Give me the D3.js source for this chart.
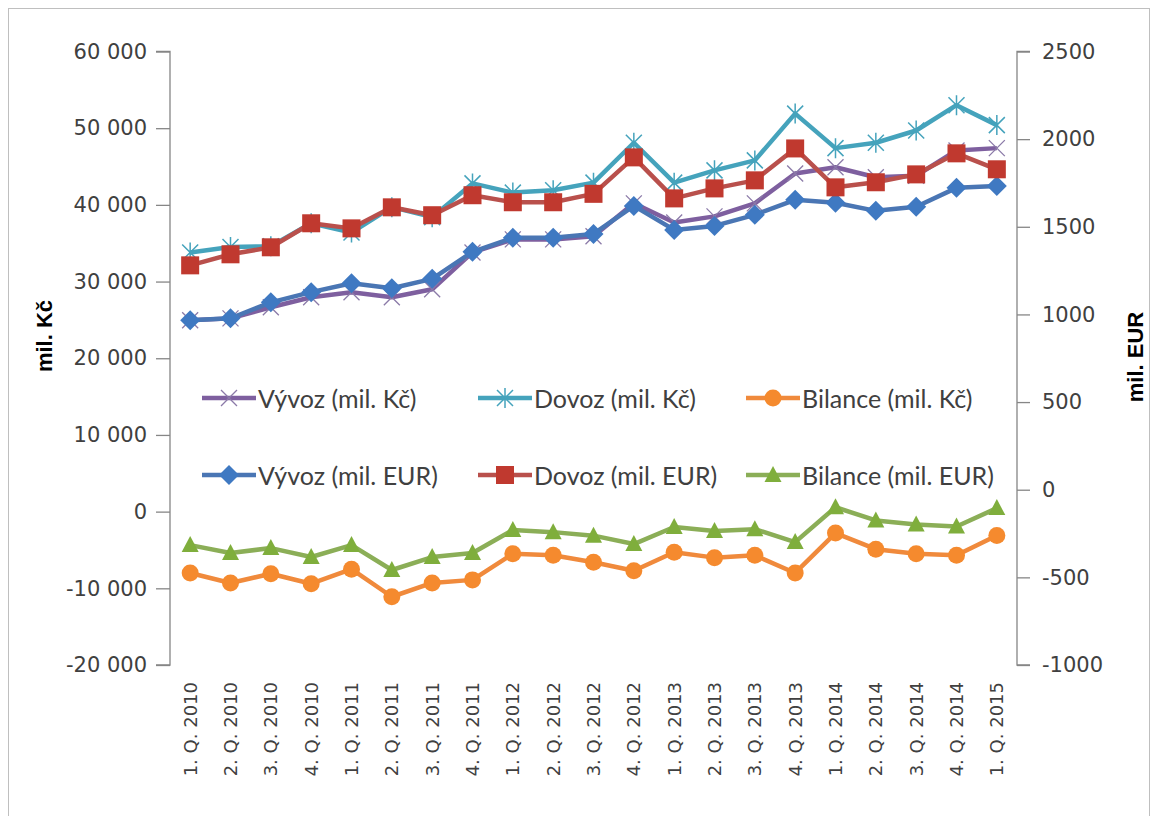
<!DOCTYPE html>
<html><head><meta charset="utf-8">
<script src="https://cdn.jsdelivr.net/npm/d3@7"></script>
<style>body{margin:0;background:#fff;} svg{display:block;}</style>
</head><body>
<svg id="c" width="1153" height="816"></svg>
<script>
const categories = ["1. Q. 2010","2. Q. 2010","3. Q. 2010","4. Q. 2010","1. Q. 2011","2. Q. 2011","3. Q. 2011","4. Q. 2011","1. Q. 2012","2. Q. 2012","3. Q. 2012","4. Q. 2012","1. Q. 2013","2. Q. 2013","3. Q. 2013","4. Q. 2013","1. Q. 2014","2. Q. 2014","3. Q. 2014","4. Q. 2014","1. Q. 2015"];
const vyvozKc   = [24950,25200,26650,27950,28600,27950,29000,33800,35500,35500,35900,40200,37700,38500,40200,44100,44900,43600,43800,47100,47400];
const dovozKc   = [33800,34500,34600,37600,36400,39700,38400,42800,41600,41900,42900,48100,42900,44500,45800,51900,47400,48100,49700,53000,50400];
const bilanceKc = [-8000,-9300,-8100,-9400,-7500,-11100,-9300,-8900,-5500,-5700,-6600,-7700,-5300,-6000,-5700,-8000,-2800,-4900,-5500,-5700,-3100];
const vyvozEur   = [967,978,1069,1127,1178,1149,1203,1357,1437,1437,1459,1619,1482,1505,1568,1654,1637,1591,1614,1722,1733];
const dovozEur   = [1280,1343,1383,1520,1491,1611,1566,1680,1640,1640,1688,1896,1662,1719,1765,1947,1725,1754,1799,1919,1828];
const bilanceEur = [-316,-361,-333,-384,-316,-458,-384,-361,-230,-242,-262,-310,-213,-236,-225,-299,-100,-175,-198,-210,-105];
const leftTicks  = [-20000,-10000,0,10000,20000,30000,40000,50000,60000];
const rightTicks = [-1000,-500,0,500,1000,1500,2000,2500];

const svg = d3.select("#c");
const L = 170, R = 1017, T = 51.5, B = 665;
const x = d3.scaleBand().domain(categories).range([L, R]);
const yL = d3.scaleLinear().domain([-20000, 60000]).range([B, T]);
const yR = d3.scaleLinear().domain([-1000, 2500]).range([B, T]);
const cx = d => x(d) + x.bandwidth()/2;

svg.append("rect").attr("x",8.5).attr("y",8.5).attr("width",1141).attr("height",830)
  .attr("fill","#fff").attr("stroke","#bfbfbf").attr("stroke-width",1);

const fmtL = v => (v < 0 ? "-" : "") + (Math.abs(v) >= 1000 ? d3.format(",")(Math.abs(v)).replace(/,/g," ") : String(Math.abs(v)));
const fmtR = v => (v < 0 ? "-" : "") + String(Math.abs(v));

// left axis
const gl = svg.append("g").attr("transform",`translate(${L},0)`)
  .call(d3.axisLeft(yL).tickValues(leftTicks).tickSize(14).tickPadding(9).tickFormat(fmtL));
gl.attr("font-family", null).attr("font-size", null);
gl.selectAll("path,line").attr("stroke","#868686").attr("stroke-width",1.3);
gl.select(".domain").attr("d", `M-14,${T}H0V${B}H-14`);
gl.selectAll("text").style("font-family","'DejaVu Sans'").style("font-size","21px").attr("fill","#404040");

// right axis
const gr = svg.append("g").attr("transform",`translate(${R},0)`)
  .call(d3.axisRight(yR).tickValues(rightTicks).tickSize(13).tickPadding(12).tickFormat(fmtR));
gr.attr("font-family", null).attr("font-size", null);
gr.selectAll("path,line").attr("stroke","#868686").attr("stroke-width",1.3);
gr.select(".domain").attr("d", `M13,${T}H0V${B}H13`);
gr.selectAll("text").style("font-family","'DejaVu Sans'").style("font-size","21px").attr("fill","#404040");

// x labels
svg.append("g").selectAll("text").data(categories).join("text")
  .attr("transform", d => `translate(${cx(d)},682) rotate(-90)`)
  .attr("text-anchor","end").attr("dominant-baseline","central")
  .style("font-family","'DejaVu Sans'").style("font-size","18px").attr("fill","#404040")
  .text(d => d);

// axis titles
svg.append("text").attr("transform","translate(44,336) rotate(-90)")
  .attr("text-anchor","middle").attr("dominant-baseline","central")
  .style("font-family","'Liberation Sans'").attr("font-weight","bold").style("font-size","22px").attr("fill","#000")
  .text("mil. Kč");
svg.append("text").attr("transform","translate(1135,357) rotate(-90)")
  .attr("text-anchor","middle").attr("dominant-baseline","central")
  .style("font-family","'Liberation Sans'").attr("font-weight","bold").style("font-size","22px").attr("fill","#000")
  .text("mil. EUR");

// markers
function drawMarker(g, type, color) {
  if (type === "x") {
    g.append("path").attr("d","M-8,-8L8,8M-8,8L8,-8").attr("stroke",color).attr("stroke-width",1.3).attr("fill","none");
  } else if (type === "star") {
    g.append("path").attr("d","M-8,-8L8,8M-8,8L8,-8M0,-10V10").attr("stroke",color).attr("stroke-width",1.5).attr("fill","none");
  } else if (type === "circle") {
    g.append("circle").attr("r",8.5).attr("fill",color);
  } else if (type === "diamond") {
    g.append("path").attr("d","M0,-10L10,0L0,10L-10,0Z").attr("fill",color);
  } else if (type === "square") {
    g.append("rect").attr("x",-9).attr("y",-9).attr("width",18).attr("height",18).attr("fill",color);
  } else if (type === "triangle") {
    g.append("path").attr("d","M0,-9L8.5,7L-8.5,7Z").attr("fill",color);
  }
}

const series = [
  {name:"Vývoz (mil. Kč)",  data:vyvozKc,   y:yL, color:"#7E5F9F", mcolor:"#8b7aa8", marker:"x"},
  {name:"Dovoz (mil. Kč)",  data:dovozKc,   y:yL, color:"#45A3BC", mcolor:"#45A3BC", marker:"star"},
  {name:"Bilance (mil. Kč)",data:bilanceKc, y:yL, color:"#F08A3C", mcolor:"#F58A2E", marker:"circle"},
  {name:"Vývoz (mil. EUR)", data:vyvozEur,  y:yR, color:"#4A76B4", mcolor:"#3F79C2", marker:"diamond"},
  {name:"Dovoz (mil. EUR)", data:dovozEur,  y:yR, color:"#B9504C", mcolor:"#C0392F", marker:"square"},
  {name:"Bilance (mil. EUR)",data:bilanceEur,y:yR, color:"#8BAE57", mcolor:"#7FAE3C", marker:"triangle"}
];

series.forEach(s => {
  const line = d3.line().x((d,i) => cx(categories[i])).y(d => s.y(d));
  svg.append("path").datum(s.data).attr("d", line).attr("fill","none")
    .attr("stroke", s.color).attr("stroke-width", 4.5).attr("stroke-linejoin","round");
  s.data.forEach((v,i) => {
    const g = svg.append("g").attr("transform",`translate(${cx(categories[i])},${s.y(v)})`);
    drawMarker(g, s.marker, s.mcolor);
  });
});

// legend
const legCols = [202, 478, 746];
const legRows = [398, 475];
series.forEach((s, k) => {
  const col = k % 3, row = Math.floor(k / 3);
  const x0 = legCols[col], y0 = legRows[row];
  const g = svg.append("g").attr("transform",`translate(${x0},${y0})`);
  g.append("line").attr("x1",0).attr("x2",54).attr("y1",0).attr("y2",0)
    .attr("stroke", s.color).attr("stroke-width",4.5);
  const m = g.append("g").attr("transform","translate(27,0)");
  drawMarker(m, s.marker, s.mcolor);
  g.append("text").attr("x",56).attr("y",0).attr("dominant-baseline","central")
    .style("font-family","Lato").style("font-size","25px").attr("fill","#404040").text(s.name);
});
</script>
</body></html>
